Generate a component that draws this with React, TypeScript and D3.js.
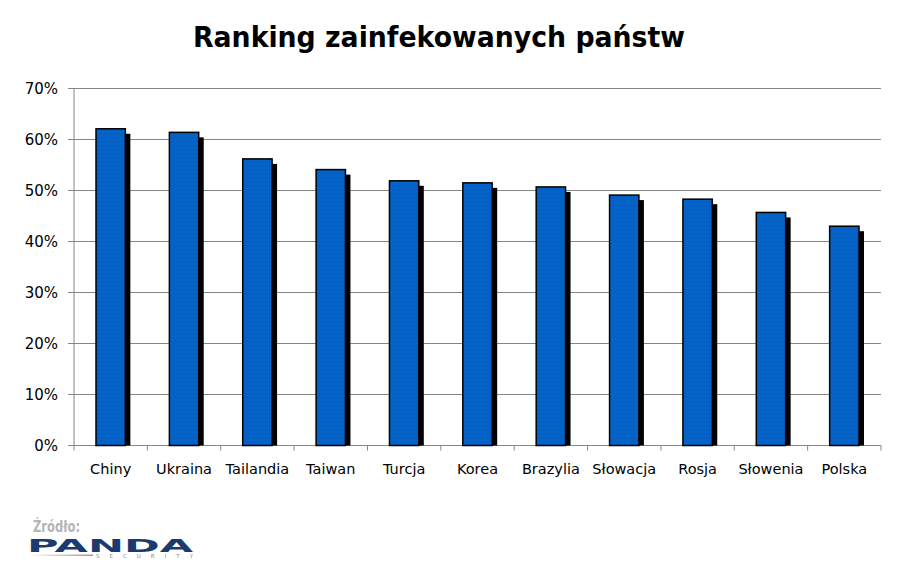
import React from 'react';
import * as d3 from 'd3';

const countries = ['Chiny', 'Ukraina', 'Tailandia', 'Taiwan', 'Turcja', 'Korea', 'Brazylia', 'Słowacja', 'Rosja', 'Słowenia', 'Polska'];
const infected = [62.1, 61.4, 56.2, 54.1, 51.9, 51.5, 50.7, 49.1, 48.3, 45.7, 43.0];
const yTicks = [0, 10, 20, 30, 40, 50, 60, 70];

const W = 897;
const H = 582;
const left = 74;
const right = 881;
const top = 88.5;
const bottom = 445.5;

const App: React.FC = () => {
    const x = d3.scaleBand<string>()
        .domain(countries)
        .range([left, right])
        .paddingInner(0.6)
        .paddingOuter(0.3);

    const y = d3.scaleLinear()
        .domain([0, 70])
        .range([bottom, top]);

    const step = x.step();
    const font = '"DejaVu Sans", Verdana, sans-serif';

    return (
        <svg
            width={W}
            height={H}
            style={{ position: 'absolute', left: 0, top: 0, background: '#fff' }}
        >
            <defs>
                <pattern id="dots" width="4" height="4" patternUnits="userSpaceOnUse">
                    <rect width="4" height="4" fill="#0563C8" />
                    <rect x="1" y="1" width="1" height="1" fill="#0650A6" />
                </pattern>
                <linearGradient id="logoLine" x1="0" x2="1">
                    <stop offset="0" stopColor="#ffffff" />
                    <stop offset="1" stopColor="#9a9a9a" />
                </linearGradient>
            </defs>

            {/* title */}
            <text
                x={193}
                y={47}
                textLength={492}
                lengthAdjust="spacingAndGlyphs"
                style={{ fontFamily: font, fontWeight: 'bold', fontSize: 28, fill: '#000' }}
            >
                Ranking zainfekowanych państw
            </text>

            {/* grid + y axis */}
            {yTicks.map(t => (
                <g key={t}>
                    <line x1={left - 6} x2={right} y1={y(t)} y2={y(t)} stroke="#868686" strokeWidth={1} />
                    <text
                        x={58}
                        y={y(t) + 5.5}
                        textAnchor="end"
                        style={{ fontFamily: font, fontSize: 15, fill: '#000' }}
                    >
                        {t}%
                    </text>
                </g>
            ))}
            <line x1={left} x2={left} y1={top} y2={bottom + 5} stroke="#868686" strokeWidth={1} />

            {/* category ticks */}
            {countries.map((c, i) => (
                <line
                    key={c}
                    x1={left + step * (i + 1)}
                    x2={left + step * (i + 1)}
                    y1={bottom}
                    y2={bottom + 5}
                    stroke="#868686"
                    strokeWidth={1}
                />
            ))}

            {/* bars with shadow */}
            {countries.map((c, i) => {
                const bx = x(c) as number;
                const by = y(infected[i]);
                const bw = x.bandwidth();
                return (
                    <g key={c}>
                        <rect x={bx + 5} y={by + 5} width={bw} height={bottom - by - 5} fill="#000" />
                        <rect
                            x={bx}
                            y={by}
                            width={bw}
                            height={bottom - by}
                            fill="url(#dots)"
                            stroke="#000"
                            strokeWidth={1.5}
                        />
                    </g>
                );
            })}

            {/* x labels */}
            {countries.map(c => (
                <text
                    key={c}
                    x={(x(c) as number) + x.bandwidth() / 2}
                    y={474}
                    textAnchor="middle"
                    style={{ fontFamily: font, fontSize: 14.5, fill: '#000' }}
                >
                    {c}
                </text>
            ))}

            {/* source */}
            <text
                x={33}
                y={532}
                textLength={47}
                lengthAdjust="spacingAndGlyphs"
                style={{ fontFamily: '"DejaVu Sans Condensed", "DejaVu Sans", sans-serif', fontWeight: 'bold', fontSize: 16, fill: '#b5b5b5' }}
            >
                Źródło:
            </text>
            <text
                x={27}
                y={552}
                textLength={166}
                lengthAdjust="spacingAndGlyphs"
                style={{ fontFamily: font, fontWeight: 'bold', fontSize: 17, fill: '#1B3A6E' }}
            >
                PANDA
            </text>
            <rect x={27} y={554.5} width={66} height={1.5} fill="url(#logoLine)" />
            <text
                x={96}
                y={558}
                textLength={97}
                lengthAdjust="spacing"
                style={{ fontFamily: font, fontSize: 5.5, fill: '#8a8a8a' }}
            >
                SECURITY
            </text>
        </svg>
    );
};

export default App;
